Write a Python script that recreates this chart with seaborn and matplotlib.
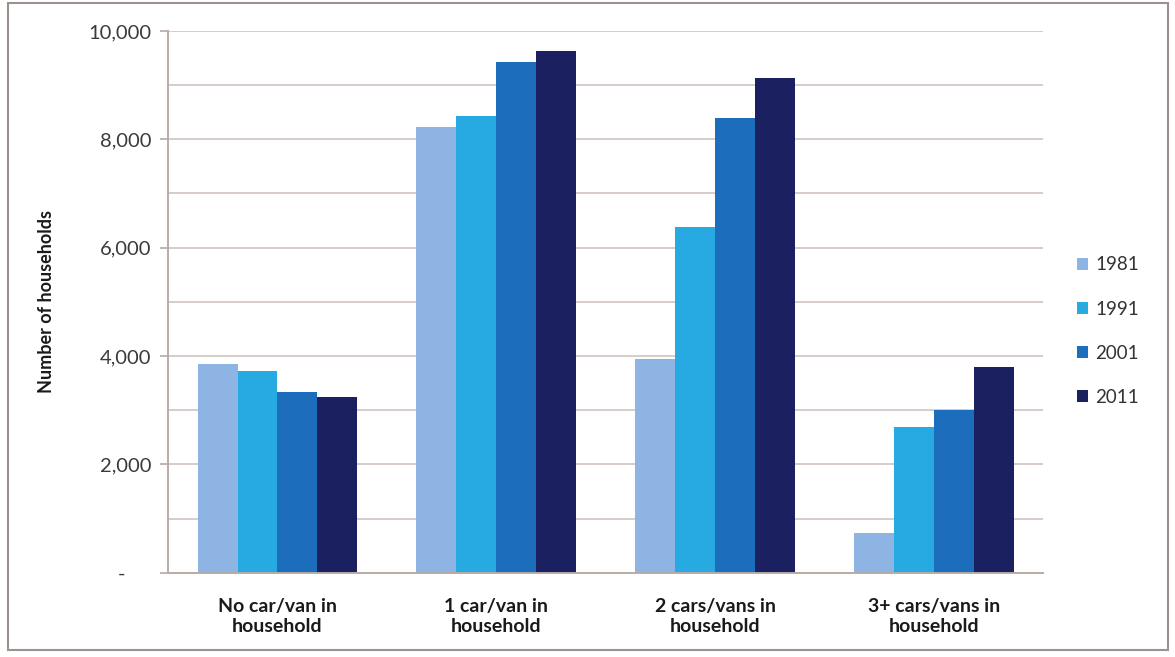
import matplotlib
matplotlib.use("Agg")
import matplotlib.pyplot as plt
import matplotlib.ticker as mticker
from matplotlib.patches import Rectangle
import seaborn as sns
import pandas as pd

categories = ["No car/van in\nhousehold", "1 car/van in\nhousehold",
              "2 cars/vans in\nhousehold", "3+ cars/vans in\nhousehold"]
years = ["1981", "1991", "2001", "2011"]
values_1981 = [3850, 8230, 3950, 740]
values_1991 = [3730, 8430, 6380, 2690]
values_2001 = [3340, 9430, 8390, 3000]
values_2011 = [3250, 9630, 9130, 3800]
colors = ["#8eb4e3", "#27aae1", "#1c6ebd", "#1b2160"]
y_ticks = [0, 2000, 4000, 6000, 8000, 10000]

df = pd.DataFrame({
    "category": categories * 4,
    "year": [y for y in years for _ in categories],
    "households": values_1981 + values_1991 + values_2001 + values_2011,
})

sns.set_theme(style="white")
plt.rcParams["font.family"] = ["Lato", "DejaVu Sans"]

fig = plt.figure(figsize=(11.75, 6.57), dpi=100)
ax = fig.add_axes([0.143, 0.128, 0.745, 0.825])

sns.barplot(data=df, x="category", y="households", hue="year",
            palette=colors, width=0.73, saturation=1, ax=ax,
            edgecolor="none", linewidth=0, legend=True)

ax.set_ylim(0, 10000)
ax.set_xlim(-0.5, 3.5)
ax.yaxis.set_major_locator(mticker.FixedLocator(y_ticks))
ax.yaxis.set_minor_locator(mticker.MultipleLocator(1000))
ax.yaxis.set_major_formatter(mticker.FuncFormatter(
    lambda v, p: "-     " if v == 0 else f"{int(v):,}"))
ax.grid(axis="y", which="both", color="#cfc4bf", linewidth=1.2)
ax.set_axisbelow(True)

for side in ["top", "right"]:
    ax.spines[side].set_visible(False)
for side in ["left", "bottom"]:
    ax.spines[side].set_color("#b8aca6")
    ax.spines[side].set_linewidth(1.4)

ax.tick_params(axis="y", which="major", left=True, length=6, color="#b8aca6",
               labelsize=14.5, labelcolor="#3a3a3a", pad=6)
ax.tick_params(axis="y", which="minor", left=False)
ax.tick_params(axis="x", bottom=False, labelsize=14, labelcolor="#1a1a1a", pad=12)
for lbl in ax.get_xticklabels():
    lbl.set_fontweight("bold")

ax.set_xlabel("")
ax.set_ylabel("Number of households", fontsize=13, fontweight="bold",
              color="#1a1a1a", labelpad=24)

handles, labels = ax.get_legend_handles_labels()
ax.legend(handles, labels, loc="center left", bbox_to_anchor=(1.03, 0.446),
          frameon=False, fontsize=13.5, handlelength=0.6, handleheight=0.6,
          labelspacing=1.45, handletextpad=0.35, labelcolor="#333333",
          borderaxespad=0)

fig.patches.append(Rectangle((0.007, 0.01), 0.987, 0.985, transform=fig.transFigure,
                             fill=False, edgecolor="#9c918c", linewidth=1.5))

fig.savefig("out.png", dpi=100, facecolor="white")
